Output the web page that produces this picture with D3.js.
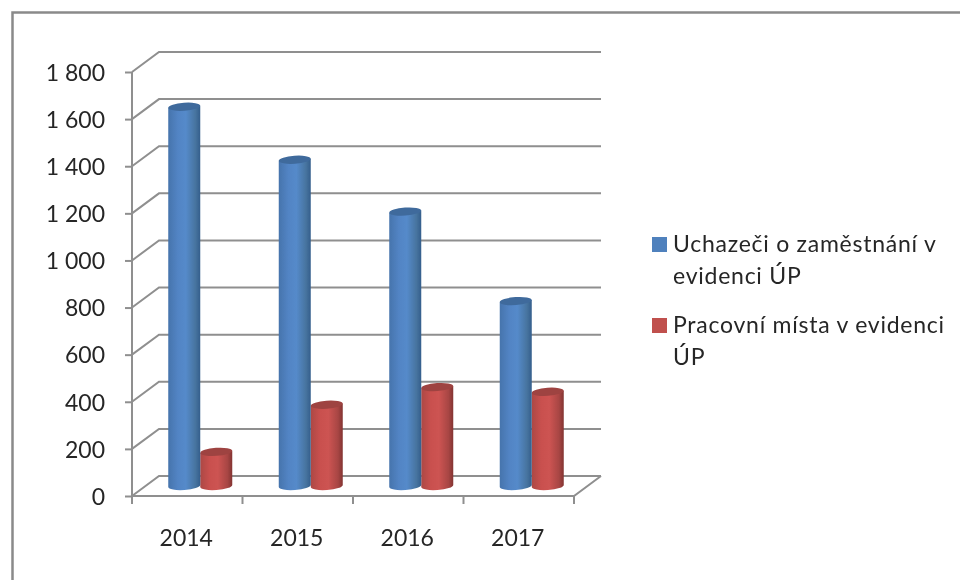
<!DOCTYPE html>
<html>
<head>
<meta charset="utf-8">
<script src="https://cdn.jsdelivr.net/npm/d3@7"></script>
<style>
  html, body { margin: 0; padding: 0; background: #fff; }
  svg { display: block; filter: blur(0.5px); }
  text { font-family: Lato, "Open Sans", sans-serif; fill: #262626; }
</style>
</head>
<body>
<svg id="chart" width="960" height="580"></svg>
<script>
const years = ['2014', '2015', '2016', '2017'];
const uchazeci = [1610, 1385, 1165, 785];
const mista = [145, 345, 420, 400];
const yTicks = [0, 200, 400, 600, 800, 1000, 1200, 1400, 1600, 1800];
const legendLines = [
    ['Uchazeči o zaměstnání v', 'evidenci ÚP'],
    ['Pracovní místa v evidenci', 'ÚP']
];

const svg = d3.select('#chart');
const gridColor = '#8f8f8f';

// floor depth of the fake 3D box
const depthX = 27, depthY = 20;

const xscale = d3.scaleBand().domain(years).range([132, 574]);
const yscale = d3.scaleLinear().domain([0, 1800]).range([496, 72]);

// number format with a space as thousands separator
const fmt = d3.formatLocale({ decimal: ',', thousands: ' ', grouping: [3], currency: ['', ''] }).format(',d');

const defs = svg.append('defs');
function cylinderGradient(id, stops) {
    const g = defs.append('linearGradient').attr('id', id);
    stops.forEach(s => g.append('stop').attr('offset', s[0]).attr('stop-color', s[1]));
}
cylinderGradient('blueBody', [[0, '#4674ac'], [0.3, '#5284c4'], [0.55, '#558aca'], [0.85, '#47749f'], [1, '#345e8c']]);
cylinderGradient('redBody', [[0, '#ac4845'], [0.3, '#c9504e'], [0.55, '#cd5452'], [0.85, '#a84644'], [1, '#833432']]);

// outer frame, the picture is cropped on the right and at the bottom
svg.append('path')
    .attr('d', 'M12.5,580V12.5H960')
    .attr('fill', 'none')
    .attr('stroke', '#8a8a8a')
    .attr('stroke-width', 2.5);

const grid = svg.append('g').attr('fill', 'none').attr('stroke', gridColor).attr('stroke-width', 2);

// back wall lines and their slanted side wall parts
yTicks.forEach(t => {
    const y = yscale(t);
    grid.append('path').attr('d', `M${xscale.range()[0]},${y}L${xscale.range()[0] + depthX},${y - depthY}H${xscale.range()[1] + depthX}`);
});

// floor front edge and slant on the right
grid.append('path').attr('d', `M${xscale.range()[0]},${yscale(0)}H${xscale.range()[1]}L${xscale.range()[1] + depthX},${yscale(0) - depthY}`);

const yaxis = d3.axisLeft(yscale).tickValues(yTicks).tickFormat(fmt).tickSize(7).tickPadding(20);
const yaxis_group = svg.append('g')
    .attr('transform', `translate(${xscale.range()[0]},0)`)
    .call(yaxis);
yaxis_group.select('.domain').attr('stroke', gridColor).attr('stroke-width', 2).attr('d', `M0,${yscale(1800)}V${yscale(0) + 8}`);
yaxis_group.selectAll('.tick line').attr('stroke', gridColor).attr('stroke-width', 2);
yaxis_group.selectAll('text').style('font-size', '23px').attr('dy', '0.36em');

// category ticks sit on the band edges, labels on the band centres
const bandEdges = years.map(d => xscale(d)).concat([xscale.range()[1]]).slice(1);
svg.append('g').selectAll('line').data(bandEdges).join('line')
    .attr('x1', d => d).attr('x2', d => d)
    .attr('y1', yscale(0)).attr('y2', yscale(0) + 8)
    .attr('stroke', gridColor).attr('stroke-width', 2);

svg.append('g').selectAll('text').data(years).join('text')
    .attr('x', d => xscale(d) + xscale.bandwidth() / 2 - 1)
    .attr('y', 546)
    .attr('text-anchor', 'middle')
    .style('font-size', '23px')
    .text(d => d);

const barW = 32, rx = 16, ry = 4, tilt = -4;

function drawBars(values, bodyFill, topFill, offset) {
    const g = svg.append('g');
    years.forEach((year, i) => {
        const x0 = xscale(year) + xscale.bandwidth() / 2 + depthX / 2 + offset;
        const x1 = x0 + barW;
        const cx = (x0 + x1) / 2;
        const base = yscale(0) - depthY / 2;
        const top = base - (yscale(0) - yscale(values[i]));
        const dy = Math.tan(-tilt * Math.PI / 180) * rx;
        g.append('path')
            .attr('d', `M${x0},${top + dy}L${x1},${top - dy}V${base - dy}A${rx},${ry} ${tilt} 0 1 ${x0},${base + dy}Z`)
            .attr('fill', `url(#${bodyFill})`);
        g.append('ellipse')
            .attr('cx', cx).attr('cy', top)
            .attr('rx', rx).attr('ry', ry)
            .attr('transform', `rotate(${tilt} ${cx} ${top})`)
            .attr('fill', topFill);
    });
}
drawBars(mista, 'redBody', '#9e4341', -0.5);
drawBars(uchazeci, 'blueBody', '#3f6a9c', -barW - 0.5);

// legend
const legendColors = ['#4f81bd', '#c0504d'];
const legendY = [237, 318];
const legend = svg.append('g');
legendLines.forEach((lines, i) => {
    legend.append('rect')
        .attr('x', 652).attr('y', legendY[i]).attr('width', 15).attr('height', 15)
        .attr('fill', legendColors[i]);
    lines.forEach((line, j) => {
        legend.append('text')
            .attr('x', 673)
            .attr('y', legendY[i] + 15 + j * 32)
            .style('font-size', '23px')
            .style('letter-spacing', '0.75px')
            .text(line);
    });
});
</script>
</body>
</html>
